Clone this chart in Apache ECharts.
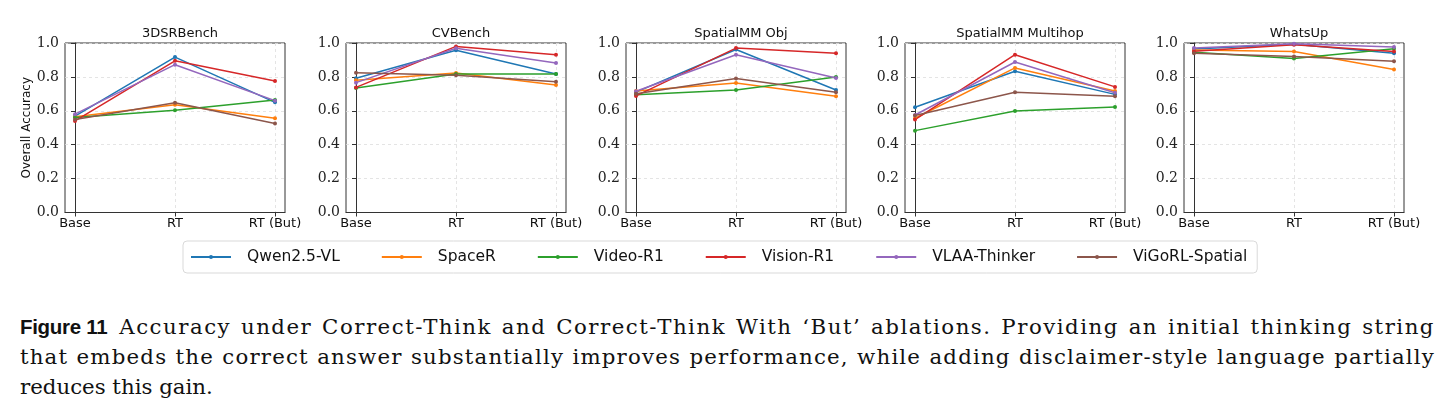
<!DOCTYPE html>
<html>
<head>
<meta charset="utf-8">
<script src="https://cdn.jsdelivr.net/npm/echarts@6/dist/echarts.min.js"></script>
<style>
  body { margin: 0; background: #fff; }
  #chart { position: absolute; left: 0; top: 0; width: 1445px; height: 300px; }
  #caption { position: absolute; left: 20px; top: 312px; width: 1415px;
    font-family: "DejaVu Serif", serif; font-size: 20px; line-height: 30px; color: #111; }
  #caption.fit .j { text-align: justify; text-align-last: justify; }
  #caption .fig { display: inline-block; font-family: "Liberation Sans", sans-serif; font-weight: bold;
    font-size: 20.5px; letter-spacing: -0.3px; margin-right: 12px; }
  #caption span.t { white-space: nowrap; }
</style>
</head>
<body>
<div id="chart"></div>
<div id="caption">
  <div class="j"><span class="t"><span class="fig">Figure&nbsp;11</span>Accuracy under Correct-Think and Correct-Think With ‘But’ ablations. Providing an initial thinking string</span></div>
  <div class="j"><span class="t">that embeds the correct answer substantially improves performance, while adding disclaimer-style language partially</span></div>
  <div><span class="t">reduces this gain.</span></div>
</div>
<script>
// 数据：每个模型在5个基准上的 Base / RT / RT (But)
var benchmarks = ['3DSRBench', 'CVBench', 'SpatialMM Obj', 'SpatialMM Multihop', 'WhatsUp'];
var stages = ['Base', 'RT', 'RT (But)'];
var models = ['Qwen2.5-VL', 'SpaceR', 'Video-R1', 'Vision-R1', 'VLAA-Thinker', 'ViGoRL-Spatial'];
var colors = ['#1f77b4', '#ff7f0e', '#2ca02c', '#d62728', '#9467bd', '#8c564b'];

var qwen = [[0.568, 0.917, 0.650], [0.792, 0.957, 0.817], [0.710, 0.962, 0.723], [0.621, 0.833, 0.697], [0.965, 0.993, 0.939]];
var spacer = [[0.565, 0.636, 0.556], [0.780, 0.823, 0.752], [0.717, 0.764, 0.686], [0.556, 0.853, 0.717], [0.958, 0.950, 0.843]];
var videoR1 = [[0.560, 0.603, 0.664], [0.735, 0.817, 0.817], [0.695, 0.723, 0.800], [0.483, 0.599, 0.623], [0.945, 0.908, 0.966]];
var visionR1 = [[0.540, 0.895, 0.776], [0.738, 0.980, 0.931], [0.688, 0.970, 0.939], [0.548, 0.931, 0.741], [0.952, 0.990, 0.950]];
var vlaa = [[0.580, 0.872, 0.660], [0.766, 0.969, 0.882], [0.715, 0.931, 0.794], [0.575, 0.888, 0.707], [0.970, 0.995, 0.976]];
var vigorl = [[0.548, 0.647, 0.525], [0.825, 0.810, 0.772], [0.700, 0.790, 0.709], [0.572, 0.709, 0.686], [0.940, 0.920, 0.892]];
var modelData = [qwen, spacer, videoR1, visionR1, vlaa, vigorl];

var panelLeft = [65, 346, 626, 905, 1184];
var panelWidth = 220;

// 题注：先不对齐量出第二行自然宽度，缩放字号，再加字距并两端对齐
function fitCaption() {
    var cap = document.getElementById('caption');
    var lines = cap.querySelectorAll('span.t');
    var w2 = lines[1].getBoundingClientRect().width;
    var size = Math.min(21.3, 20 * 1400 / w2);
    cap.style.fontSize = size + 'px';
    for (var k = 0; k < 2; k++) {
        var w = lines[k].getBoundingClientRect().width;
        var n = lines[k].textContent.length;
        if (w < 1415) lines[k].style.letterSpacing = Math.min(1.6, (1410 - w) / n) + 'px';
        lines[k].style.whiteSpace = 'normal';
    }
    cap.className = 'fit';
}
fitCaption();

var grids = [], xAxes = [], yAxes = [], titles = [], series = [];
for (var i = 0; i < benchmarks.length; i++) {
    grids.push({
        left: panelLeft[i], top: 43, width: panelWidth, height: 169.5,
        show: true, borderColor: '#333', borderWidth: 1, backgroundColor: 'transparent'
    });
    titles.push({
        text: benchmarks[i], left: panelLeft[i] + panelWidth / 2, top: 22, textAlign: 'center',
        textStyle: { fontFamily: 'DejaVu Sans', fontSize: 13, fontWeight: 'normal', color: '#111' }
    });
    xAxes.push({
        gridIndex: i, type: 'value', min: -0.1, max: 2.1,
        axisLine: { show: true, lineStyle: { color: '#333' } },
        axisTick: { show: true, customValues: [0, 1, 2], length: 4, lineStyle: { color: '#333' } },
        axisLabel: {
            customValues: [0, 1, 2], margin: 5, color: '#111',
            fontFamily: 'DejaVu Sans', fontSize: 13,
            formatter: function (v) { return stages[Math.round(v)]; }
        },
        splitLine: { show: true, lineStyle: { type: [3, 3], color: '#dedede', width: 0.8 } }
    });
    yAxes.push({
        gridIndex: i, type: 'value', min: 0, max: 1, interval: 0.2,
        name: i == 0 ? 'Overall Accuracy' : '', nameLocation: 'middle', nameGap: 31,
        nameTextStyle: { fontFamily: 'DejaVu Sans', fontSize: 12, color: '#111' },
        axisLine: { show: true, lineStyle: { color: '#333' } },
        axisTick: { show: true, length: 4, lineStyle: { color: '#333' } },
        axisLabel: {
            margin: 6, color: '#222', fontFamily: 'DejaVu Serif', fontSize: 14,
            formatter: function (v) { return v.toFixed(1); }
        },
        splitLine: { show: true, lineStyle: { type: [3, 3], color: '#dedede', width: 0.8 } }
    });
    for (var m = 0; m < models.length; m++) {
        var pts = [];
        for (var s = 0; s < stages.length; s++) {
            pts.push([s, modelData[m][i][s]]);
        }
        series.push({
            name: models[m], type: 'line', xAxisIndex: i, yAxisIndex: i,
            data: pts, symbol: 'circle', symbolSize: 4,
            lineStyle: { width: 1.5, color: colors[m] },
            itemStyle: { color: colors[m] },
            emphasis: { disabled: true }
        });
    }
}

var myChart = echarts.init(document.getElementById('chart'));
myChart.setOption({
    animation: false,
    title: titles,
    grid: grids,
    xAxis: xAxes,
    yAxis: yAxes,
    legend: {
        data: models, left: 183, top: 241, orient: 'horizontal',
        itemWidth: 40, itemHeight: 5, itemGap: 41,
        borderColor: '#d9d9d9', borderWidth: 1, borderRadius: 4,
        backgroundColor: '#fff', padding: [8, 10, 8, 7],
        textStyle: { fontFamily: 'DejaVu Sans', fontSize: 15.5, color: '#111', padding: [0, 0, 0, 11] }
    },
    series: series
});
</script>
</body>
</html>
